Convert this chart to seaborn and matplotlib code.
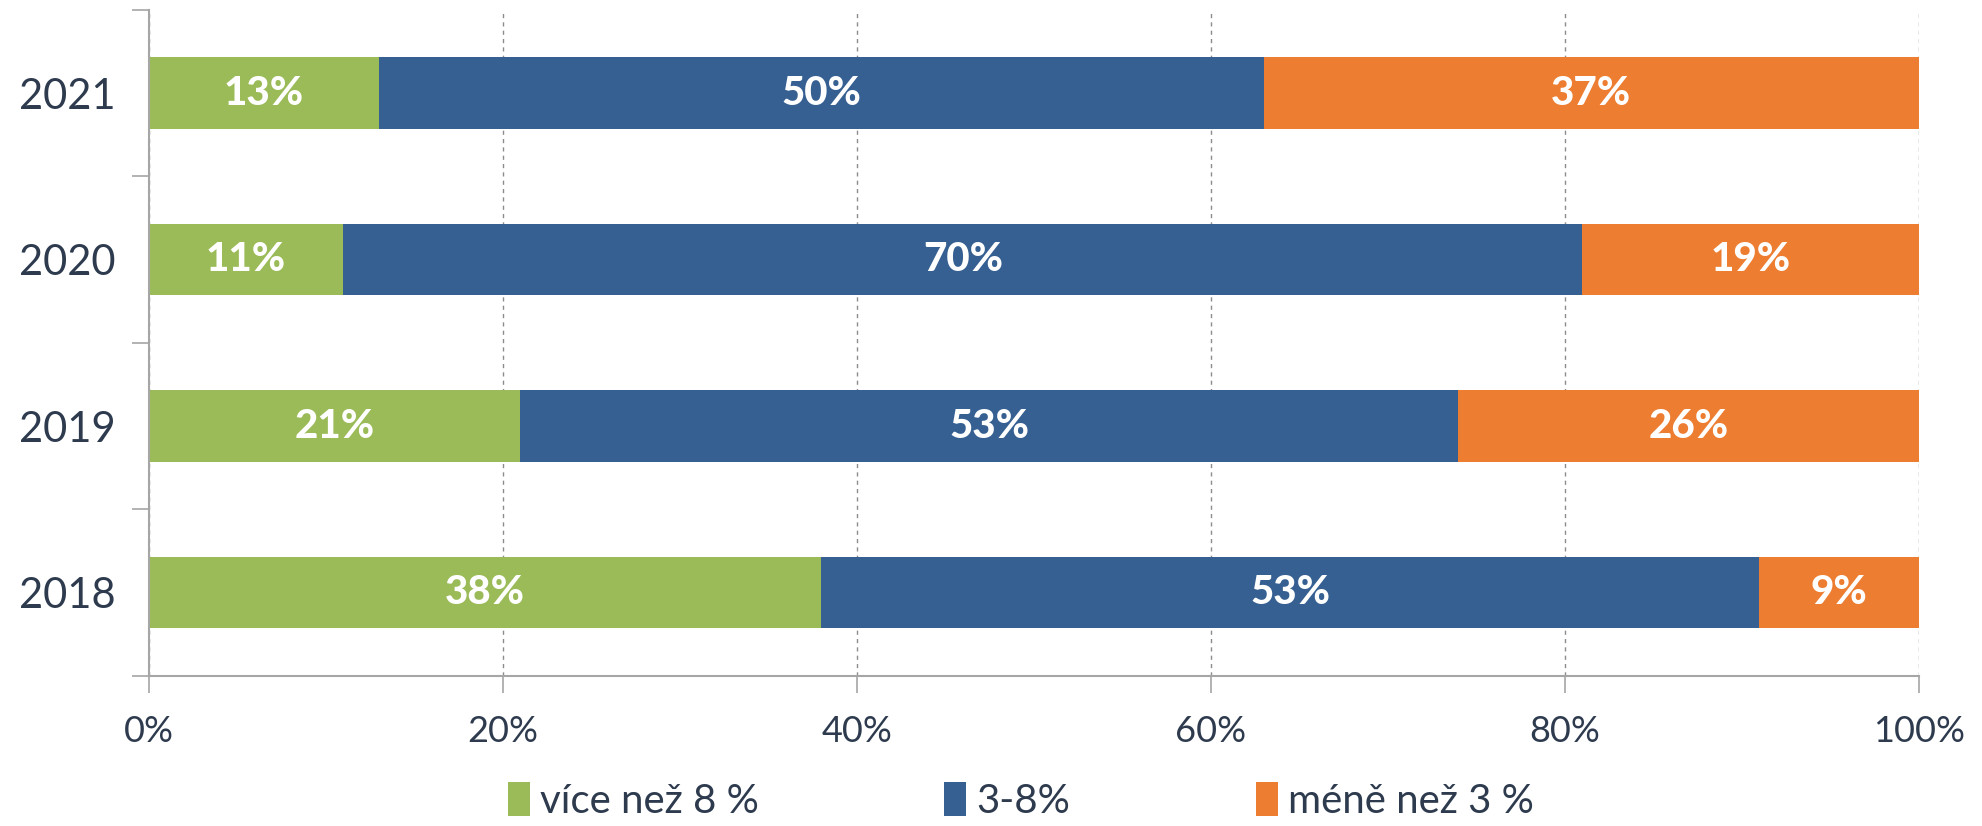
import matplotlib
matplotlib.use("Agg")
import matplotlib.pyplot as plt
import numpy as np
import pandas as pd
import seaborn as sns
from matplotlib.patches import Patch

years = ["2021", "2020", "2019", "2018"]
series = ["více než 8 %", "3-8%", "méně než 3 %"]
vice_8 = [13, 11, 21, 38]
mezi_3_8 = [50, 70, 53, 53]
mene_3 = [37, 19, 26, 9]
colors = ["#9BBB59", "#366092", "#ED7D31"]
text_col = "#2E3B4E"

sns.set_theme(style="white")
plt.rcParams["font.family"] = ["Lato", "DejaVu Sans"]

values = np.array([vice_8, mezi_3_8, mene_3], dtype=float)
cum = values.cumsum(axis=0)

fig = plt.figure(figsize=(19.82, 8.26), dpi=100)
ax = fig.add_axes([0.075, 0.182, 0.893, 0.806])

# layered cumulative bars (widest first) to get the stacked look
for i in range(2, -1, -1):
    df = pd.DataFrame({"year": years, "total": cum[i]})
    sns.barplot(data=df, x="total", y="year", orient="h", color=colors[i],
                saturation=1, width=0.43, ax=ax, edgecolor="none")

for i in range(3):
    for j, y in enumerate(years):
        v = values[i, j]
        ax.text(cum[i, j] - v / 2, j, f"{int(v)}%", ha="center", va="center",
                color="white", fontsize=29, fontweight="black")

ax.set_xlim(0, 100)
ax.set_ylim(3.5, -0.5)
ax.set_xticks(np.arange(0, 101, 20))
ax.set_xticklabels([f"{t}%" for t in range(0, 101, 20)])
ax.set_yticks(range(len(years)))
ax.set_yticklabels(years)
ax.set_yticks(np.arange(-0.5, 4.0, 1.0), minor=True)
ax.set_xlabel("")
ax.set_ylabel("")

ax.xaxis.grid(True, linestyle=(0, (3, 3)), color="#8C8C8C", linewidth=1)
ax.set_axisbelow(True)
for s in ["top", "right"]:
    ax.spines[s].set_visible(False)
for s in ["left", "bottom"]:
    ax.spines[s].set_color("#A6A6A6")
    ax.spines[s].set_linewidth(1.5)

ax.tick_params(axis="x", which="major", length=12, width=1.2, color="#A6A6A6",
               labelsize=26, labelcolor=text_col, pad=16, bottom=True)
ax.tick_params(axis="y", which="major", length=0, labelsize=30,
               labelcolor=text_col, pad=24)
ax.tick_params(axis="y", which="minor", length=12, width=1.2, color="#A6A6A6",
               left=True)

handles = [Patch(facecolor=c, edgecolor="none") for c in colors]
fig.legend(handles, series, loc="center", bbox_to_anchor=(0.515, 0.03), ncol=3,
           frameon=False, fontsize=29, handlelength=0.55, handleheight=0.9,
           handletextpad=0.25, columnspacing=4.6, labelcolor=text_col)

fig.savefig("out.png", dpi=100)
